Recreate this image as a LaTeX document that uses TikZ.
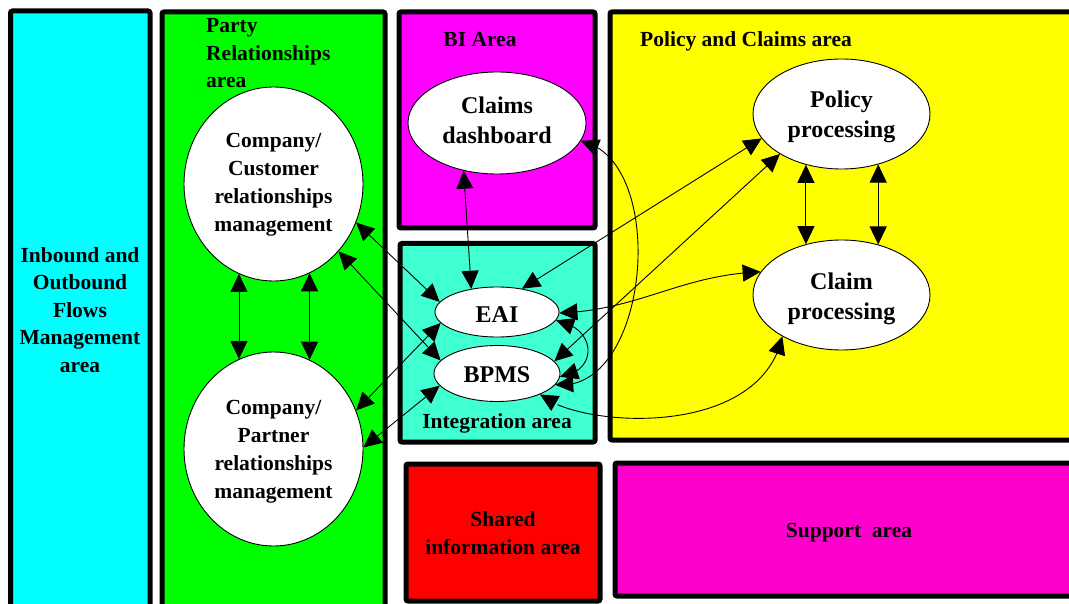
\documentclass[tikz,border=0pt]{standalone}
\usepackage{fontspec}
\setmainfont{Liberation Serif}
\usetikzlibrary{shapes.geometric,arrows.meta,bending}
\definecolor{cyanA}{HTML}{00FFFF}
\definecolor{greenA}{HTML}{00FF00}
\definecolor{magA}{HTML}{FF00FF}
\definecolor{integA}{HTML}{40FFD0}
\definecolor{yelA}{HTML}{FFFF00}
\definecolor{redA}{HTML}{FF0000}
\definecolor{supA}{HTML}{FF00CC}
\begin{document}
\begin{tikzpicture}[x=1pt,y=-1pt,
  area/.style={draw=black,line width=5pt,rounded corners=2pt},
  lbl/.style={font=\bfseries\fontsize{21.5}{27.5}\selectfont,align=center,inner sep=0},
  ell/.style={ellipse,draw=black,line width=0.9pt,fill=white,inner sep=0},
  ctext/.style={align=center,inner sep=0},
  bigtxt/.style={font=\bfseries\fontsize{24}{30}\selectfont},
  midtxt/.style={font=\bfseries\fontsize{21.5}{28}\selectfont},
  darr/.style={line width=0.9pt,{Triangle[length=18pt,width=17pt]}-{Triangle[length=18pt,width=17pt]}}]
\fill[white] (0,0) rectangle (1069,604);
\useasboundingbox (0,0) rectangle (1069,604);
\begin{scope}
\clip (0,0) rectangle (1069,604);
\draw[area,fill=cyanA] (10.5,11) rectangle (150,640);
\draw[area,fill=greenA] (162,12) rectangle (385,640);
\draw[area,fill=magA] (399,12) rectangle (595,228);
\draw[area,fill=integA] (400,243.5) rectangle (595,442);
\draw[area,fill=yelA] (610,12) rectangle (1090,440);
\draw[area,fill=redA] (406,464) rectangle (600,601);
\draw[area,fill=supA] (615,463) rectangle (1090,596);
\end{scope}

% area labels
\node[lbl] (inb) at (80,310) {Inbound and\\Outbound\\Flows\\Management\\area};
\node[lbl,anchor=west,align=left] (party) at (206,53.5) {Party\\Relationships\\area};
\node[lbl] (bi) at (480,40) {BI Area};
\node[lbl] (pca) at (746,41) {Policy and Claims area};
\node[lbl] (integ) at (497,423) {Integration area};
\node[lbl] (shared) at (503,533) {Shared\\information area};
\node[lbl] (supp) at (849,533) {Support\ \ area};

% ellipses
\node[ell,minimum width=179pt,minimum height=194pt] (cust) at (273.5,184) {};
\node[ell,minimum width=179pt,minimum height=194pt] (part) at (273.5,449) {};
\node[ell,minimum width=178pt,minimum height=102pt] (dash) at (497,123) {};
\node[ell,minimum width=124pt,minimum height=50pt] (eai) at (497,312) {};
\node[ell,minimum width=126pt,minimum height=56pt] (bpms) at (497,373.5) {};
\node[ell,minimum width=177pt,minimum height=110pt] (pol) at (841.5,114) {};
\node[ell,minimum width=177pt,minimum height=110pt] (clm) at (841.5,295) {};

% ellipse texts
\node[ctext,midtxt] (custT) at (273.5,184.5) {Company/\\Customer\\relationships\\management};
\node[ctext,midtxt] (partT) at (273.5,451.5) {Company/\\Partner\\relationships\\management};
\node[ctext,bigtxt] (dashT) at (497,120) {Claims\\dashboard};
\node[ctext,bigtxt] (eaiT) at (497,315) {EAI};
\node[ctext,bigtxt] (bpmsT) at (497,374.5) {BPMS};
\node[ctext,bigtxt] (polT) at (841.5,117) {Policy\\processing};
\node[ctext,bigtxt] (clmT) at (841.5,299) {Claim\\processing};

% connectors
\draw[darr] (cust.-111.75) -- (part.111.75);
\draw[darr] (cust.-68.25) -- (part.68.25);
\draw[darr] (pol.-125.2) -- (clm.125.2);
\draw[darr] (pol.-54.8) -- (clm.54.8);
\draw[darr] (dash.-125.3) -- (eai.138.4);
\draw[darr] (cust.-25) -- (eai.170);
\draw[darr] (cust.-46.9) -- (bpms.167.6);
\draw[darr] (part.25) -- (eai.-169.1);
\draw[darr] (part.1) -- (bpms.-168.5);
\draw[darr] (eai.43.8) -- (pol.-163.6);
\draw[darr] (bpms.12.5) -- (pol.-147.8);
\draw[darr] (eai.-1) .. controls (640,310) and (680,275) .. (clm.164.9);
\draw[darr] (dash.-12.7) .. controls (670,160) and (650,395) .. (bpms.-11.4);
\draw[darr] (eai.-8) .. controls (598,328) and (598,372) .. (bpms.-3);
\draw[darr] (bpms.-26) .. controls (578,428) and (760,440) .. (clm.-145.7);
\end{tikzpicture}
\end{document}
